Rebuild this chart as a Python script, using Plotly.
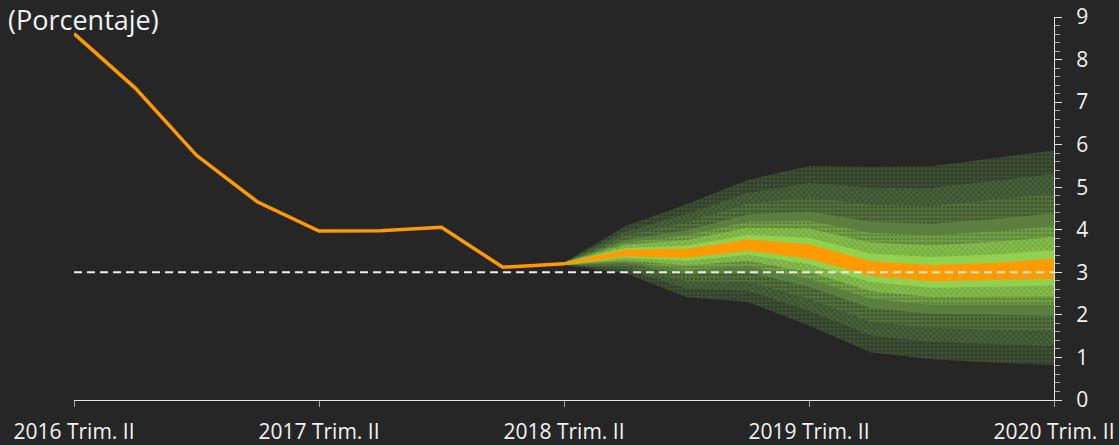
import plotly.graph_objects as go

# ---------------- data ----------------
tick_pos = [0, 4, 8, 12, 16]
tick_labels = ["2016 Trim. II", "2017 Trim. II", "2018 Trim. II", "2019 Trim. II", "2020 Trim. II"]

hist_x = [0, 1, 2, 3, 4, 5, 6, 7, 8]
hist_y = [8.61, 7.33, 5.75, 4.65, 3.97, 3.98, 4.06, 3.12, 3.20]

fc_x = [8, 9, 10, 11, 12, 13, 14, 15, 16]

# central (orange) band
center_hi = [3.23, 3.53, 3.55, 3.77, 3.66, 3.26, 3.17, 3.22, 3.32]
center_lo = [3.17, 3.37, 3.34, 3.51, 3.32, 2.92, 2.79, 2.82, 2.85]

# fan band edges, from inner to outer
band1_hi = [3.23, 3.57, 3.63, 3.88, 3.81, 3.44, 3.36, 3.42, 3.52]
band1_lo = [3.17, 3.34, 3.27, 3.41, 3.19, 2.78, 2.64, 2.66, 2.69]
band2_hi = [3.23, 3.64, 3.76, 4.05, 4.03, 3.70, 3.63, 3.71, 3.83]
band2_lo = [3.17, 3.29, 3.16, 3.27, 3.01, 2.56, 2.42, 2.43, 2.44]
band3_hi = [3.23, 3.70, 3.87, 4.19, 4.21, 3.93, 3.87, 3.96, 4.09]
band3_lo = [3.17, 3.25, 3.06, 3.15, 2.85, 2.38, 2.24, 2.24, 2.24]
band4_hi = [3.23, 3.76, 3.99, 4.36, 4.43, 4.19, 4.14, 4.25, 4.39]
band4_lo = [3.17, 3.21, 2.95, 3.00, 2.66, 2.16, 2.02, 2.01, 1.98]
band5_hi = [3.23, 3.86, 4.18, 4.61, 4.76, 4.59, 4.56, 4.70, 4.85]
band5_lo = [3.17, 3.14, 2.79, 2.78, 2.38, 1.84, 1.69, 1.66, 1.63]
band6_hi = [3.23, 3.96, 4.37, 4.86, 5.10, 4.99, 4.98, 5.14, 5.31]
band6_lo = [3.17, 3.07, 2.62, 2.57, 2.10, 1.52, 1.36, 1.31, 1.27]
band7_hi = [3.23, 4.08, 4.60, 5.17, 5.50, 5.48, 5.49, 5.68, 5.87]
band7_lo = [3.17, 2.98, 2.42, 2.30, 1.75, 1.12, 0.96, 0.88, 0.82]

target_x = [0, 16]
target_y = [3.0, 3.0]

# ---------------- styles ----------------
BG = "#262626"
ORANGE = "#ff9a00"

band_styles = [
    # (hi, lo, bg, pattern shape, fg)
    (band7_hi, band7_lo, "#3f5433", "+", "#2c3428"),
    (band6_hi, band6_lo, "#486238", "x", "#354530"),
    (band5_hi, band5_lo, "#52703b", ".", "#3e5431"),
    (band4_hi, band4_lo, "#5b7f3e", "", None),
    (band3_hi, band3_lo, "#719e44", ".", "#5b7f3e"),
    (band2_hi, band2_lo, "#84bd4a", "x", "#72a044"),
    (band1_hi, band1_lo, "#92d050", "", None),
]

fig = go.Figure()

for hi, lo, col, shape, fg in band_styles:
    xs = fc_x + fc_x[::-1]
    ys = hi + lo[::-1]
    kw = dict(x=xs, y=ys, mode="lines", fill="toself", fillcolor=col,
              line=dict(width=0, color=col), hoverinfo="skip", showlegend=False)
    if shape:
        kw["fillpattern"] = dict(shape=shape, size=4, solidity=0.35,
                                 fgcolor=fg, bgcolor=col, fillmode="replace")
    fig.add_trace(go.Scatter(**kw))

fig.add_trace(go.Scatter(
    x=fc_x + fc_x[::-1], y=center_hi + center_lo[::-1],
    mode="lines", fill="toself", fillcolor=ORANGE,
    line=dict(width=0, color=ORANGE), hoverinfo="skip", showlegend=False))

fig.add_trace(go.Scatter(
    x=target_x, y=target_y, mode="lines",
    line=dict(color="#ececec", width=2, dash="8px,5px"),
    hoverinfo="skip", showlegend=False))

fig.add_trace(go.Scatter(
    x=hist_x, y=hist_y, mode="lines",
    line=dict(color=ORANGE, width=3.5),
    hoverinfo="skip", showlegend=False))

fig.add_annotation(
    text="(Porcentaje)", xref="paper", yref="paper",
    x=(6 - 74) / 980, y=(400 - 19) / 383, xanchor="left", yanchor="middle",
    showarrow=False, font=dict(family="Open Sans", size=27, color="#f2f2f2"))

fig.update_layout(
    width=1119, height=445,
    paper_bgcolor=BG, plot_bgcolor=BG,
    margin=dict(l=74, r=65, t=17, b=45, autoexpand=False),
    font=dict(family="Open Sans", color="#f2f2f2", size=21),
    xaxis=dict(
        range=[0, 16], tickvals=tick_pos, ticktext=tick_labels, automargin=False,
        showgrid=False, zeroline=False, showline=True, linecolor="#e6e6e6", linewidth=1,
        ticks="outside", ticklen=6, tickcolor="#a6a6a6", tickwidth=1,
        tickfont=dict(size=21, color="#f2f2f2"), ticklabelstandoff=7),
    yaxis=dict(
        range=[0, 9], dtick=1, side="right", automargin=False,
        showgrid=False, zeroline=False, showline=True, linecolor="#e6e6e6", linewidth=1,
        ticks="outside", ticklen=7, tickcolor="#e6e6e6", tickwidth=1,
        minor=dict(dtick=0.2, ticks="outside", ticklen=5, tickcolor="#a6a6a6", tickwidth=1),
        tickfont=dict(size=21, color="#f2f2f2"), ticklabelstandoff=10),
)

fig.write_html(
    "out.html",
    config={"displayModeBar": False},
    post_script="document.body.style.margin='0';document.body.style.overflow='hidden';"
                "document.body.style.background='#262626';",
)
